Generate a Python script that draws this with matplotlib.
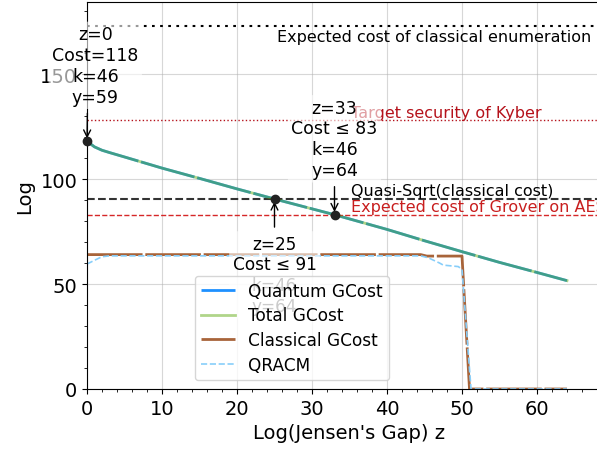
import matplotlib
matplotlib.use("Agg")
import matplotlib.pyplot as plt
from matplotlib.ticker import MultipleLocator

# --- Du lieu doc tu hinh ---
z_quantum = [0, 1, 2, 3, 5, 10, 15, 20, 25, 30, 33, 40, 45, 50, 55, 60, 64]
quantum_cost = [118, 115.3, 113.7, 112.6, 110.5, 105.2, 100.3, 95.3, 90.5,
                85.8, 83, 76, 70.6, 65.4, 60.3, 55.5, 51.6]
total_cost = quantum_cost  # tong chi phi trung voi chi phi luong tu

z_classical = [0, 44.5, 45.3, 50, 51, 64]
classical_cost = [64, 64, 63.3, 63.3, 0, 0]

z_qracm = [0, 1, 2, 3, 44.5, 45.5, 47, 47.5, 49.5, 50, 51.2, 64]
qracm = [59.5, 61.3, 63, 63.4, 63.4, 62.5, 60, 59, 58.3, 57, 0, 0]

# cac duong tham chieu ngang
CLASSICAL_ENUM = 173
KYBER_TARGET = 128
QUASI_SQRT = 90.5
GROVER_AES = 83

# cac diem chu thich: (z, cost, nhan)
points = [
    (0, 118, "z=0\nCost=118\nk=46\ny=59"),
    (25, 90.5, "z=25\nCost \u2264 91\nk=46\ny=64"),
    (33, 83, "z=33\nCost \u2264 83\nk=46\ny=64"),
]

fig = plt.figure(figsize=(5.97, 4.52), dpi=100)
ax = fig.add_axes([87 / 597, 62 / 452, 525 / 597, 387 / 452])

ax.plot(z_quantum, quantum_cost, color="dodgerblue", lw=2, dashes=(20, 1),
        label="Quantum GCost", zorder=2)
ax.plot(z_quantum, total_cost, color="#62ac15", lw=2, alpha=0.5,
        label="Total GCost", zorder=2.1)
ax.plot(z_classical, classical_cost, color="#a8643a", lw=2, dashes=(20, 1),
        label="Classical GCost", zorder=2.2)
ax.plot(z_qracm, qracm, color="#87cefa", lw=1.2, ls="--",
        label="QRACM", zorder=2.3)

# duong tham chieu
ax.axhline(CLASSICAL_ENUM, color="k", lw=1.5, dashes=(1.3, 2.6))
ax.text(25.3, CLASSICAL_ENUM - 1.5, "Expected cost of classical enumeration",
        fontsize=11.5, va="top", ha="left")
ax.axhline(KYBER_TARGET, color="#b5121b", ls=":", lw=1)
ax.text(35.2, KYBER_TARGET + 0.3, "Target security of Kyber", fontsize=11.5,
        color="#b5121b", va="bottom")
ax.axhline(QUASI_SQRT, color="#333333", ls="--", lw=1.5)
ax.text(35.2, QUASI_SQRT + 0.3, "Quasi-Sqrt(classical cost)", fontsize=11.5,
        va="bottom")
ax.axhline(GROVER_AES, color="#d62728", ls="--", lw=1)
ax.text(35.2, GROVER_AES + 0.3, "Expected cost of Grover on AES", fontsize=11.5,
        color="#c81e1e", va="bottom")

# diem va mui ten chu thich
box = dict(boxstyle="round,pad=0.2", fc="white", ec="none", alpha=0.6)
for z, c, lab in points:
    ax.plot(z, c, "o", color="#222222", ms=6, zorder=4, clip_on=False)
    if z == 0:
        ax.annotate(lab, xy=(z, c), xytext=(1.1, 135), ha="center", va="bottom",
                    fontsize=12.5, bbox=box,
                    arrowprops=dict(arrowstyle="->", color="k", relpos=(0.41, 0),
                                    shrinkA=3, shrinkB=2))
    elif z == 25:
        ax.annotate(lab, xy=(z, c), xytext=(z, 73.5), ha="center", va="top",
                    fontsize=12.2, bbox=box,
                    arrowprops=dict(arrowstyle="->", color="k", relpos=(0.5, 1),
                                    shrinkA=3, shrinkB=2))
    else:
        ax.annotate(lab, xy=(z, c), xytext=(z, 100), ha="center", va="bottom",
                    fontsize=12.5, bbox=box,
                    arrowprops=dict(arrowstyle="->", color="k", relpos=(0.5, 0),
                                    shrinkA=3, shrinkB=2))

ax.set_xlim(0, 70)
ax.set_ylim(0, 184.3)
ax.xaxis.set_major_locator(MultipleLocator(10))
ax.xaxis.set_minor_locator(MultipleLocator(2))
ax.yaxis.set_major_locator(MultipleLocator(50))
ax.yaxis.set_minor_locator(MultipleLocator(10))
ax.tick_params(labelsize=14)
ax.grid(True, color="#b0b0b0", alpha=0.5)
ax.set_axisbelow(True)
ax.set_xlabel("Log(Jensen's Gap) z", fontsize=14)
ax.set_ylabel("Log", fontsize=14)

ax.legend(loc="lower left", bbox_to_anchor=(0.2057, 0.0233), borderaxespad=0,
          fontsize=12.2, labelspacing=0.4, borderpad=0.35)

fig.savefig("out.png", dpi=100)
